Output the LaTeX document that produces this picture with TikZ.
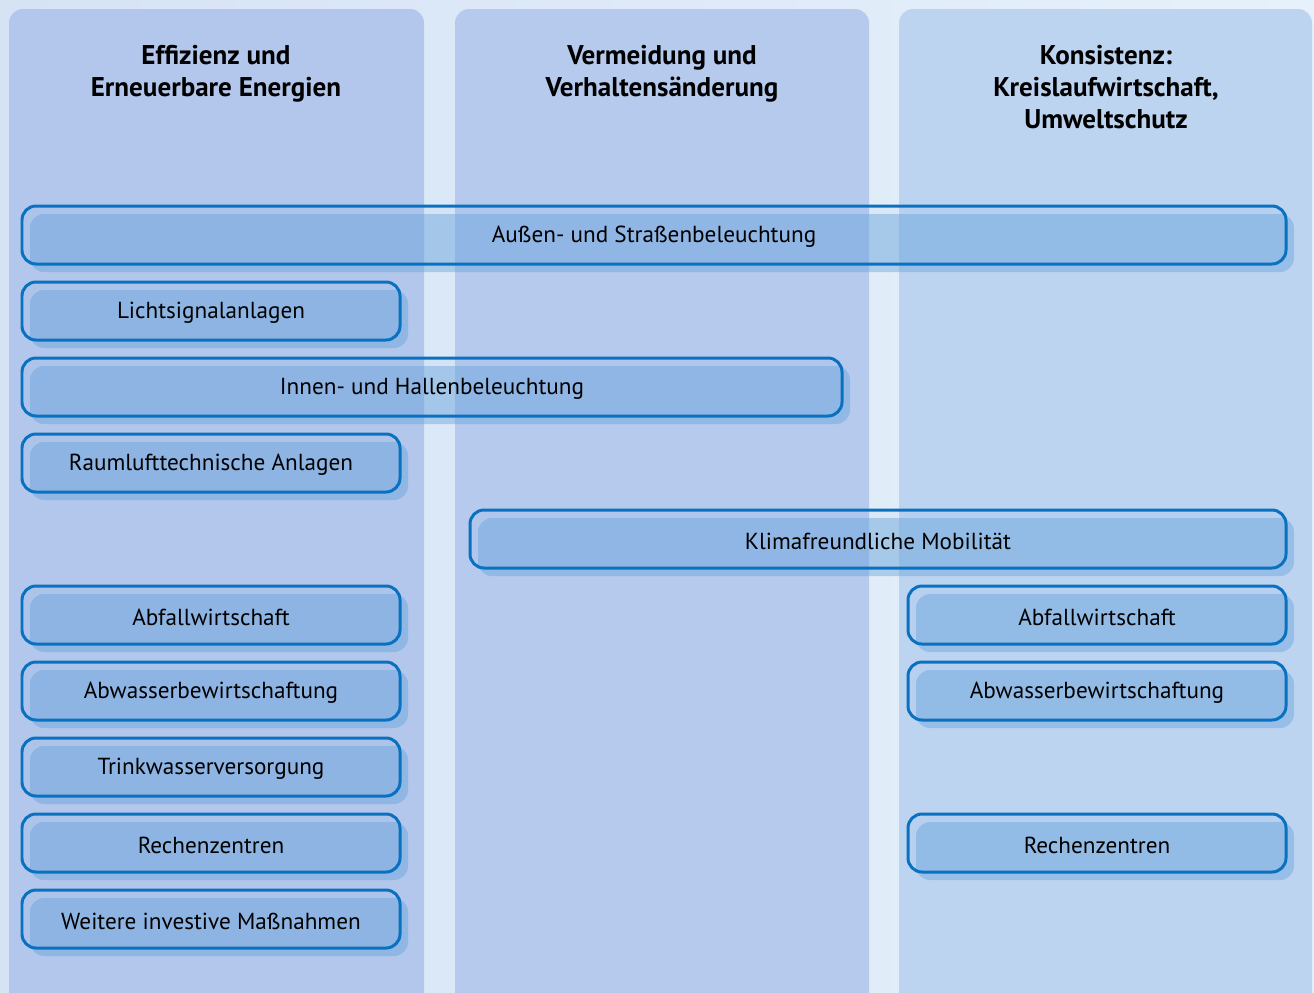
\documentclass[tikz,border=0pt]{standalone}
\usepackage{fontspec}
\setmainfont{PT Sans}
\definecolor{hgblau}{HTML}{D6E3F5}
\definecolor{hgblauhell}{HTML}{E6F1FB}
\definecolor{spalteA}{HTML}{B2C7EB}
\definecolor{spalteB}{HTML}{B5CAED}
\definecolor{spalteC}{HTML}{BDD4F1}
\definecolor{schattenblau}{HTML}{62A0DA}
\definecolor{rahmenblau}{HTML}{0A71C1}

% one measure: shadow, frame and named label (pixel coordinates)
\newcommand{\massnahme}[5]{%
  \fill[schatten] (#2+8,#4+8) rectangle (#3+8,#4+66);
  \draw[rahmen] (#2,#4) rectangle (#3,#4+58);
  \node[beschriftung] (#1) at ({(#2+#3)/2},#4+31) {#5};
}

\begin{document}
\begin{tikzpicture}[x=0.02cm,y=-0.02cm,
    spalte/.style={rounded corners=0.28cm},
    schatten/.style={fill=schattenblau,fill opacity=0.42,rounded corners=0.28cm},
    rahmen/.style={draw=rahmenblau,line width=1.7pt,fill=schattenblau,fill opacity=0.06,rounded corners=0.28cm},
    titel/.style={align=center,anchor=north,font=\fontsize{15.4}{18.2}\selectfont\bfseries},
    beschriftung/.style={font=\fontsize{13.2}{15}\selectfont}]
  \useasboundingbox (0,0) rectangle (1314,992);
  \clip (0,0) rectangle (1314,992);
  \shade[left color=hgblau,right color=hgblauhell] (0,0) rectangle (1314,992);

  % columns
  \fill[spalte,spalteA] (9,9) rectangle (424,1020);
  \fill[spalte,spalteB] (455,9) rectangle (869,1020);
  \fill[spalte,spalteC] (899,9) rectangle (1312,1020);

  \node[titel] (effizienz) at (216,39) {Effizienz und\\Erneuerbare Energien};
  \node[titel] (vermeidung) at (662,39) {Vermeidung und\\Verhaltensänderung};
  \node[titel] (konsistenz) at (1106,39) {Konsistenz:\\Kreislaufwirtschaft,\\Umweltschutz};

  % measures
  \massnahme{aussen}{22}{1286}{206}{Außen- und Straßenbeleuchtung}
  \massnahme{lsa}{22}{400}{282}{Lichtsignalanlagen}
  \massnahme{innen}{22}{842}{358}{Innen- und Hallenbeleuchtung}
  \massnahme{rlt}{22}{400}{434}{Raumlufttechnische Anlagen}
  \massnahme{mobil}{470}{1286}{510}{Klimafreundliche Mobilität}
  \massnahme{abfallA}{22}{400}{586}{Abfallwirtschaft}
  \massnahme{abfallC}{908}{1286}{586}{Abfallwirtschaft}
  \massnahme{abwasserA}{22}{400}{662}{Abwasserbewirtschaftung}
  \massnahme{abwasserC}{908}{1286}{662}{Abwasserbewirtschaftung}
  \massnahme{trinkwasser}{22}{400}{738}{Trinkwasserversorgung}
  \massnahme{rzA}{22}{400}{814}{Rechenzentren}
  \massnahme{rzC}{908}{1286}{814}{Rechenzentren}
  \massnahme{weitere}{22}{400}{890}{Weitere investive Maßnahmen}
\end{tikzpicture}
\end{document}
